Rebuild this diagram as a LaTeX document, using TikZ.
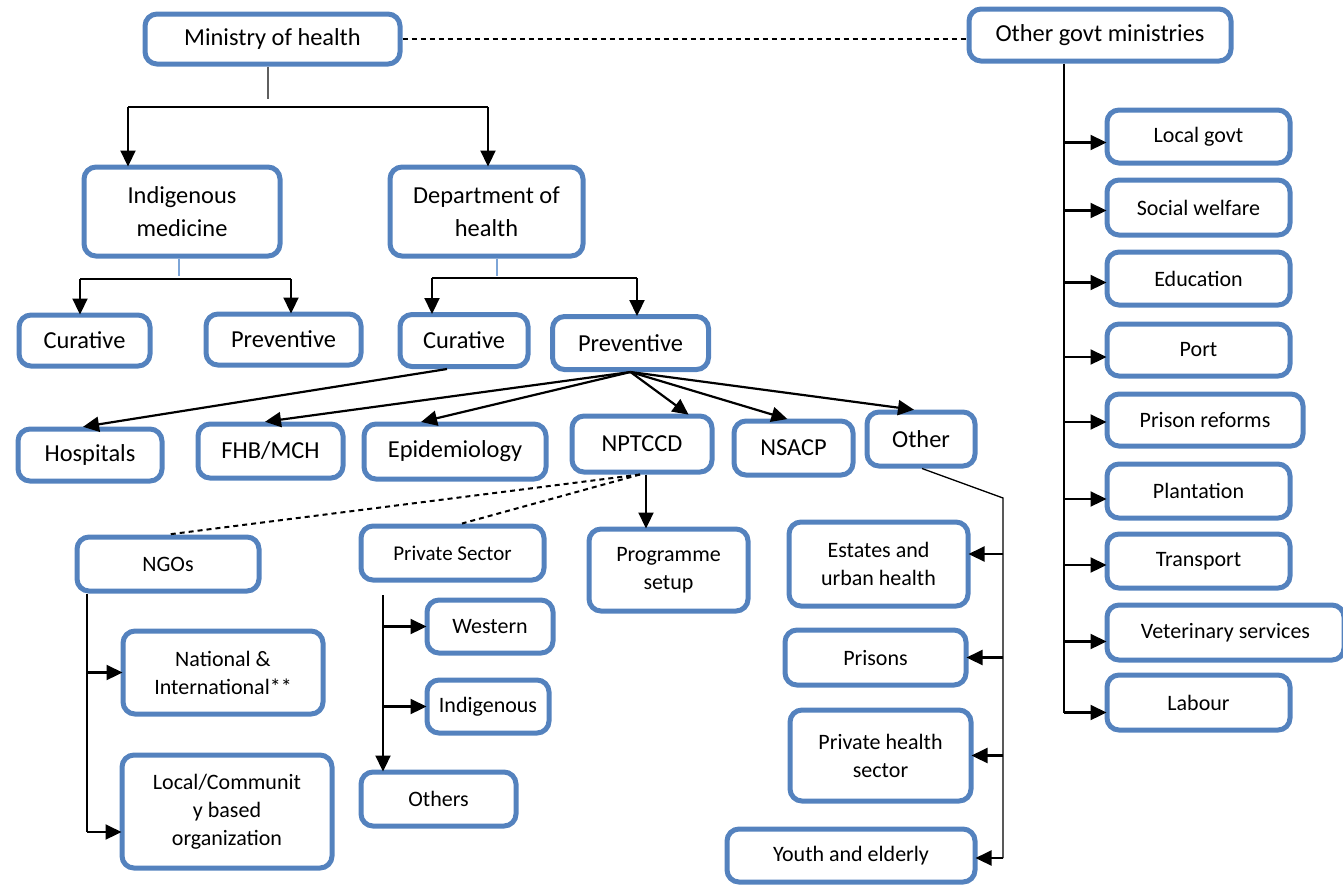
\documentclass[tikz,border=0pt]{standalone}
\usepackage{fontspec}
\setmainfont{Carlito}
\usetikzlibrary{arrows.meta,calc}
\definecolor{boxblue}{RGB}{84,130,190}
\definecolor{stemblue}{RGB}{125,165,215}
\definecolor{stemgray}{RGB}{95,95,95}
\tikzset{
  box/.style={draw=boxblue, line width=2.5pt, rounded corners=6pt, fill=white,
              align=center, inner sep=2pt, text=black},
  big/.style={font=\fontsize{12.2}{16.5}\selectfont},
  small/.style={font=\fontsize{11}{14}\selectfont},
  arr/.style={line width=1.1pt, -{Triangle[length=8pt,width=7.5pt]}, shorten >=-1pt},
  link/.style={line width=1.1pt},
  thinlink/.style={line width=0.65pt},
  dashlink/.style={line width=1pt, dash pattern=on 2.5pt off 2pt},
  stem/.style={line width=0.8pt},
}
\begin{document}
\begin{tikzpicture}[x=0.5pt,y=-0.5pt]
\useasboundingbox (0,0) rectangle (1343,885);

% ---- top level ----
\node[box,big,minimum width=127.5pt,minimum height=25pt] (moh) at (272.5,39) {Ministry of health};
\node[box,big,minimum width=131pt,minimum height=26pt] (ogm) at (1100,35) {Other govt ministries};

% ---- second level ----
\node[box,big,minimum width=98pt,minimum height=44.5pt] (indmed) at (182,211.5) {Indigenous\\medicine};
\node[box,big,minimum width=96.5pt,minimum height=44.5pt] (doh) at (486.5,211.5) {Department of\\health};

% ---- curative / preventive ----
\node[box,big,minimum width=65.5pt,minimum height=25.5pt] (icur) at (84.5,340.5) {Curative};
\node[box,big,minimum width=77.5pt,minimum height=25.5pt] (iprev) at (283.5,339.5) {Preventive};
\node[box,big,minimum width=64pt,minimum height=26pt] (dcur) at (464,340.5) {Curative};
\node[box,big,minimum width=78pt,minimum height=26.5pt] (dprev) at (630.5,343) {Preventive};

% ---- services ----
\node[box,big,minimum width=72pt,minimum height=26pt] (hosp) at (90,455) {Hospitals};
\node[box,big,minimum width=72.5pt,minimum height=27pt] (fhb) at (270.5,451) {FHB/MCH};
\node[box,big,minimum width=91pt,minimum height=27.5pt] (epi) at (455,451.5) {Epidemiology};
\node[box,big,minimum width=70pt,minimum height=28pt] (nptccd) at (642,444) {NPTCCD};
\node[box,big,minimum width=59.5pt,minimum height=27pt] (nsacp) at (793.5,448) {NSACP};
\node[box,big,minimum width=54pt,minimum height=27pt] (other) at (921,439) {Other};

% ---- partners ----
\node[box,small,minimum width=91pt,minimum height=27pt] (ngo) at (168,564) {NGOs};
\node[box,small,font=\fontsize{10.5}{13}\selectfont,minimum width=91.5pt,minimum height=27pt] (priv) at (452.5,553) {Private Sector};
\node[box,small,minimum width=79.5pt,minimum height=41pt] (prog) at (668.5,570) {Programme\\setup};
\node[box,small,minimum width=63pt,minimum height=26.5pt] (western) at (490,626.5) {Western};
\node[box,small,minimum width=61pt,minimum height=26.5pt] (indig) at (488,706.5) {Indigenous};
\node[box,small,minimum width=77.5pt,minimum height=27pt] (others) at (438.5,799) {Others};
\node[box,small,minimum width=100pt,minimum height=41.5pt] (natl) at (223,672.5) {National \&\\International**};
\node[box,small,minimum width=105pt,minimum height=56.5pt] (local) at (227,811.5) {Local/Communit\\y based\\organization};

% ---- other sectors ----
\node[box,small,minimum width=89.5pt,minimum height=42pt] (estates) at (878.5,564) {Estates and\\urban health};
\node[box,small,minimum width=90.5pt,minimum height=27.5pt] (prisons) at (875.5,657.5) {Prisons};
\node[box,small,minimum width=90.5pt,minimum height=45.5pt] (privhealth) at (880.5,755.5) {Private health\\sector};
\node[box,small,minimum width=124pt,minimum height=26.5pt] (youth) at (851,855.5) {Youth and elderly};

% ---- other ministries ----
\node[box,small,minimum width=91.5pt,minimum height=26.5pt] (localgovt) at (1198.5,136.5) {Local govt};
\node[box,small,minimum width=91.5pt,minimum height=27.5pt] (social) at (1198.5,207.5) {Social welfare};
\node[box,small,minimum width=91.5pt,minimum height=26.5pt] (edu) at (1198.5,278.5) {Education};
\node[box,small,minimum width=91.5pt,minimum height=26pt] (port) at (1198.5,350) {Port};
\node[box,small,minimum width=98pt,minimum height=26pt] (prisonref) at (1205,420) {Prison reforms};
\node[box,small,minimum width=91.5pt,minimum height=27pt] (plant) at (1198.5,491) {Plantation};
\node[box,small,minimum width=91.5pt,minimum height=27pt] (transport) at (1198.5,561) {Transport};
\node[box,small,minimum width=118.5pt,minimum height=27.5pt] (vet) at (1225.5,632.5) {Veterinary services};
\node[box,small,minimum width=91.5pt,minimum height=27.5pt] (labour) at (1198.5,702.5) {Labour};

% ---- connectors: ministry level ----
\draw[dashlink] (moh.east) -- (moh.east -| ogm.west);
\coordinate (mohStem) at (268,99);
\draw[stem,stemgray] (moh.south -| mohStem) -- (mohStem);
\coordinate (brL) at (128,107);
\coordinate (brR) at (488,107);
\draw[link] (brL) -- (brR);
\draw[arr] (brL) -- (brL |- indmed.north);
\draw[arr] (brR) -- (brR |- doh.north);

% ---- indigenous medicine branches ----
\coordinate (imStem) at (179,276);
\draw[stem,stemblue] (indmed.south -| imStem) -- (imStem);
\coordinate (imL) at (80,279);
\coordinate (imR) at (291,279);
\draw[link] (imL) -- (imR);
\draw[arr] (imL) -- (imL |- icur.north);
\draw[arr] (imR) -- (imR |- iprev.north);

% ---- department of health branches ----
\coordinate (dhStem) at (497,276);
\draw[stem,stemblue] (doh.south -| dhStem) -- (dhStem);
\coordinate (dhL) at (432,278);
\coordinate (dhR) at (637,278);
\draw[link] (dhL) -- (dhR);
\draw[arr] (dhL) -- (dhL |- dcur.north);
\draw[arr] (dhR) -- (dhR |- dprev.north);

% ---- curative and preventive services ----
\draw[arr] ([xshift=-8.5pt]dcur.south) -- ([xshift=-2.5pt]hosp.north);
\draw[arr] (dprev.south) -- ([xshift=-1.75pt]fhb.north);
\draw[arr] (dprev.south) -- ([xshift=-16pt]epi.north);
\draw[arr] (dprev.south) -- ([xshift=22.5pt]nptccd.north);
\draw[arr] (dprev.south) -- ([xshift=-4pt]nsacp.north);
\draw[arr] (dprev.south) -- ([xshift=-4.5pt]other.north);

% ---- NPTCCD partners ----
\draw[dashlink] ([xshift=-1pt]nptccd.south) -- (ngo.north);
\draw[dashlink] ([xshift=-1pt]nptccd.south) -- ([xshift=4.75pt]priv.north);
\draw[arr] ([xshift=2pt]nptccd.south) -- ([xshift=2pt]nptccd.south |- prog.north);

% ---- NGOs ----
\coordinate (ngoEnd) at (87,832);
\draw[thinlink] (ngo.south -| ngoEnd) -- (ngoEnd);
\draw[arr] (ngoEnd |- natl.west) -- (natl.west);
\draw[arr] (ngoEnd) -- (ngoEnd -| local.west);

% ---- private sector ----
\coordinate (pvTop) at (383,595);
\draw[arr] (pvTop) -- (pvTop |- others.north);
\draw[arr] (pvTop |- western.west) -- (western.west);
\draw[arr] (pvTop |- indig.west) -- (indig.west);

% ---- other sectors ----
\coordinate (otKnee) at (1003,498);
\coordinate (otEnd) at (1003,858);
\draw[thinlink] ([xshift=0.5pt]other.south) -- (otKnee) -- (otEnd);
\coordinate (estA) at ($(estates.east)+(0,-10)$);
\draw[arr] (estA -| otKnee) -- (estA);
\draw[arr] (prisons.east -| otKnee) -- (prisons.east);
\draw[arr] (privhealth.east -| otKnee) -- (privhealth.east);
\coordinate (youA) at ($(youth.east)+(0,2.5)$);
\draw[arr] (youA -| otKnee) -- (youA);

% ---- other ministries ----
\coordinate (ogEnd) at (1064,713);
\draw[thinlink] (ogm.south -| ogEnd) -- (ogEnd);
\foreach \b/\d in {localgovt/6, social/3, edu/4, port/7, prisonref/2, plant/8, transport/4, vet/9, labour/10}{
  \coordinate (tip) at ($(\b.west)+(0,\d)$);
  \draw[arr] (tip -| ogEnd) -- (tip);
}
\end{tikzpicture}
\end{document}
